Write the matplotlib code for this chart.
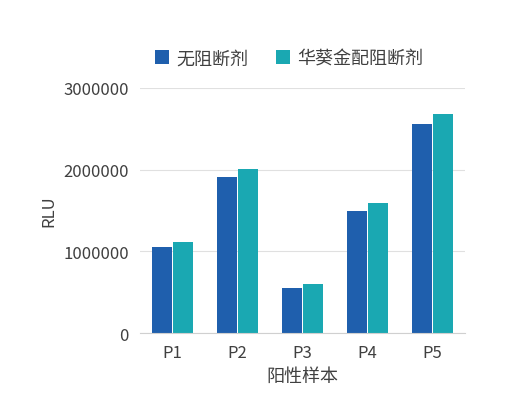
import matplotlib
matplotlib.use("Agg")
import matplotlib.pyplot as plt
import numpy as np

plt.rcParams['font.family'] = ['Noto Sans CJK SC', 'DejaVu Sans']

categories = ["P1", "P2", "P3", "P4", "P5"]
series_names = ["无阻断剂", "华葵金配阻断剂"]
no_blocker = [1050000, 1910000, 550000, 1490000, 2560000]
with_blocker = [1110000, 2010000, 600000, 1590000, 2680000]
colors = ["#1f5fad", "#1aa8b2"]

fig = plt.figure(figsize=(5.16, 4.10), dpi=100)
ax = fig.add_axes([0.271, 0.185, 0.63, 0.598])
x = np.arange(len(categories))
w = 0.31
ax.bar(x - w/2 - 0.01, no_blocker, w, color=colors[0], label=series_names[0])
ax.bar(x + w/2 + 0.01, with_blocker, w, color=colors[1], label=series_names[1])
ax.set_xlim(-0.5, 4.5)
ax.set_ylim(0, 3000000)
ax.set_yticks([0, 1000000, 2000000, 3000000])
ax.set_yticklabels(["0", "1000000", "2000000", "3000000"])
ax.set_xticks(x)
ax.set_xticklabels(categories)
ax.grid(axis='y', color='#e0e0e0', linewidth=0.8)
ax.set_axisbelow(True)
for s in ["top", "right", "left"]:
    ax.spines[s].set_visible(False)
ax.spines["bottom"].set_color("#d0d0d0")
ax.tick_params(length=0, labelsize=12, colors="#404040", pad=8)
ax.set_ylabel("RLU", fontsize=12, color="#404040")
ax.set_xlabel("阳性样本", fontsize=13, color="#404040")
fig.legend(loc="center", bbox_to_anchor=(0.56, 0.855), ncol=2, frameon=False,
           fontsize=13, handlelength=0.8, handleheight=0.8, columnspacing=1.5,
           handletextpad=0.4, labelcolor="#404040")
fig.savefig("out.png", dpi=100)
